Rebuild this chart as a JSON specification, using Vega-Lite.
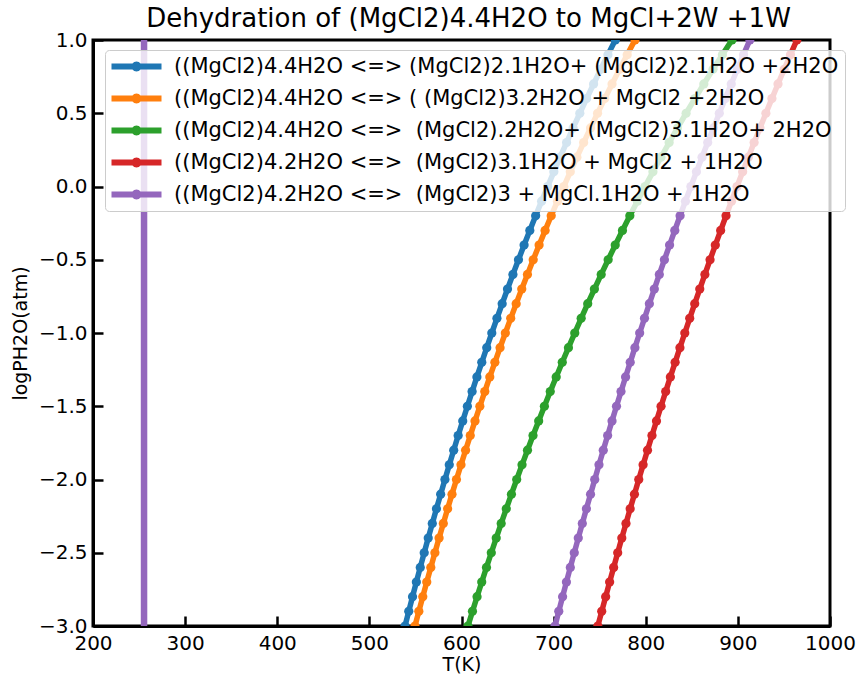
{
  "$schema": "https://vega.github.io/schema/vega-lite/v6.json",
  "autosize": {"type": "none"},
  "padding": {"left": 93, "top": 40, "right": 29, "bottom": 51},
  "width": 737,
  "height": 586,
  "background": "white",
  "title": {"text": "Dehydration of (MgCl2)4.4H2O to MgCl+2W +1W", "font": "DejaVu Sans", "fontSize": 26, "fontWeight": "normal", "color": "black", "anchor": "middle", "offset": -2, "dx": 7},
  "config": {
    "view": {"stroke": "black", "strokeWidth": 3},
    "axis": {"grid": false, "labelFlush": false, "domainColor": "black", "domainWidth": 3, "tickColor": "black", "tickWidth": 2.5, "tickSize": -10, "labelFont": "DejaVu Sans", "labelFontSize": 20, "labelColor": "black", "titleFont": "DejaVu Sans", "titleFontSize": 19, "titleFontWeight": "normal", "titleColor": "black"}
  },
  "datasets": {
    "series": [
      {"s": "A", "label": "((MgCl2)4.4H2O <=> (MgCl2)2.1H2O+ (MgCl2)2.1H2O +2H2O"},
      {"s": "B", "label": "((MgCl2)4.4H2O <=> ( (MgCl2)3.2H2O + MgCl2 +2H2O"},
      {"s": "C", "label": "((MgCl2)4.4H2O <=>\u00a0 (MgCl2).2H2O+ (MgCl2)3.1H2O+ 2H2O"},
      {"s": "D", "label": "((MgCl2)4.2H2O <=>\u00a0 (MgCl2)3.1H2O + MgCl2 + 1H2O"},
      {"s": "E", "label": "((MgCl2)4.2H2O <=>\u00a0 (MgCl2)3 + MgCl.1H2O + 1H2O"}
    ],
    "vline": [
      {"T": 255.4, "logP": -3.5},
      {"T": 255.4, "logP": 1.5}
    ],
    "curves": [
      {"s":"A","T":534.72,"logP":-3.1},{"s":"A","T":538.70,"logP":-3.0},{"s":"A","T":542.74,"logP":-2.9},{"s":"A","T":546.84,"logP":-2.8},{"s":"A","T":551.00,"logP":-2.7},{"s":"A","T":555.23,"logP":-2.6},{"s":"A","T":559.52,"logP":-2.5},{"s":"A","T":563.88,"logP":-2.4},{"s":"A","T":568.30,"logP":-2.3},{"s":"A","T":572.80,"logP":-2.2},{"s":"A","T":577.37,"logP":-2.1},{"s":"A","T":582.01,"logP":-2.0},{"s":"A","T":586.73,"logP":-1.9},{"s":"A","T":591.52,"logP":-1.8},{"s":"A","T":596.39,"logP":-1.7},{"s":"A","T":601.35,"logP":-1.6},{"s":"A","T":606.38,"logP":-1.5},{"s":"A","T":611.51,"logP":-1.4},{"s":"A","T":616.71,"logP":-1.3},{"s":"A","T":622.01,"logP":-1.2},{"s":"A","T":627.40,"logP":-1.1},{"s":"A","T":632.89,"logP":-1.0},{"s":"A","T":638.47,"logP":-0.9},{"s":"A","T":644.15,"logP":-0.8},{"s":"A","T":649.94,"logP":-0.7},{"s":"A","T":655.82,"logP":-0.6},{"s":"A","T":661.82,"logP":-0.5},{"s":"A","T":667.93,"logP":-0.4},{"s":"A","T":674.14,"logP":-0.3},{"s":"A","T":680.48,"logP":-0.2},{"s":"A","T":686.94,"logP":-0.1},{"s":"A","T":693.52,"logP":0.0},{"s":"A","T":700.22,"logP":0.1},{"s":"A","T":707.07,"logP":0.2},{"s":"A","T":714.04,"logP":0.3},{"s":"A","T":721.15,"logP":0.4},{"s":"A","T":728.41,"logP":0.5},{"s":"A","T":735.81,"logP":0.6},{"s":"A","T":743.37,"logP":0.7},{"s":"A","T":751.08,"logP":0.8},{"s":"A","T":758.96,"logP":0.9},{"s":"A","T":766.99,"logP":1.0},{"s":"A","T":775.21,"logP":1.1},
      {"s":"B","T":545.37,"logP":-3.1},{"s":"B","T":549.50,"logP":-3.0},{"s":"B","T":553.69,"logP":-2.9},{"s":"B","T":557.95,"logP":-2.8},{"s":"B","T":562.28,"logP":-2.7},{"s":"B","T":566.67,"logP":-2.6},{"s":"B","T":571.13,"logP":-2.5},{"s":"B","T":575.66,"logP":-2.4},{"s":"B","T":580.26,"logP":-2.3},{"s":"B","T":584.94,"logP":-2.2},{"s":"B","T":589.69,"logP":-2.1},{"s":"B","T":594.52,"logP":-2.0},{"s":"B","T":599.44,"logP":-1.9},{"s":"B","T":604.43,"logP":-1.8},{"s":"B","T":609.51,"logP":-1.7},{"s":"B","T":614.67,"logP":-1.6},{"s":"B","T":619.92,"logP":-1.5},{"s":"B","T":625.27,"logP":-1.4},{"s":"B","T":630.70,"logP":-1.3},{"s":"B","T":636.23,"logP":-1.2},{"s":"B","T":641.86,"logP":-1.1},{"s":"B","T":647.59,"logP":-1.0},{"s":"B","T":653.42,"logP":-0.9},{"s":"B","T":659.36,"logP":-0.8},{"s":"B","T":665.41,"logP":-0.7},{"s":"B","T":671.57,"logP":-0.6},{"s":"B","T":677.84,"logP":-0.5},{"s":"B","T":684.23,"logP":-0.4},{"s":"B","T":690.75,"logP":-0.3},{"s":"B","T":697.38,"logP":-0.2},{"s":"B","T":704.15,"logP":-0.1},{"s":"B","T":711.05,"logP":0.0},{"s":"B","T":718.09,"logP":0.1},{"s":"B","T":725.27,"logP":0.2},{"s":"B","T":732.59,"logP":0.3},{"s":"B","T":740.06,"logP":0.4},{"s":"B","T":747.69,"logP":0.5},{"s":"B","T":755.48,"logP":0.6},{"s":"B","T":763.42,"logP":0.7},{"s":"B","T":771.54,"logP":0.8},{"s":"B","T":779.84,"logP":0.9},{"s":"B","T":788.31,"logP":1.0},{"s":"B","T":796.97,"logP":1.1},
      {"s":"C","T":602.17,"logP":-3.1},{"s":"C","T":607.00,"logP":-3.0},{"s":"C","T":611.91,"logP":-2.9},{"s":"C","T":616.89,"logP":-2.8},{"s":"C","T":621.96,"logP":-2.7},{"s":"C","T":627.11,"logP":-2.6},{"s":"C","T":632.35,"logP":-2.5},{"s":"C","T":637.68,"logP":-2.4},{"s":"C","T":643.09,"logP":-2.3},{"s":"C","T":648.60,"logP":-2.2},{"s":"C","T":654.21,"logP":-2.1},{"s":"C","T":659.91,"logP":-2.0},{"s":"C","T":665.71,"logP":-1.9},{"s":"C","T":671.62,"logP":-1.8},{"s":"C","T":677.63,"logP":-1.7},{"s":"C","T":683.75,"logP":-1.6},{"s":"C","T":689.98,"logP":-1.5},{"s":"C","T":696.33,"logP":-1.4},{"s":"C","T":702.79,"logP":-1.3},{"s":"C","T":709.38,"logP":-1.2},{"s":"C","T":716.09,"logP":-1.1},{"s":"C","T":722.93,"logP":-1.0},{"s":"C","T":729.90,"logP":-0.9},{"s":"C","T":737.01,"logP":-0.8},{"s":"C","T":744.25,"logP":-0.7},{"s":"C","T":751.64,"logP":-0.6},{"s":"C","T":759.18,"logP":-0.5},{"s":"C","T":766.87,"logP":-0.4},{"s":"C","T":774.72,"logP":-0.3},{"s":"C","T":782.73,"logP":-0.2},{"s":"C","T":790.91,"logP":-0.1},{"s":"C","T":799.26,"logP":0.0},{"s":"C","T":807.79,"logP":0.1},{"s":"C","T":816.50,"logP":0.2},{"s":"C","T":825.40,"logP":0.3},{"s":"C","T":834.50,"logP":0.4},{"s":"C","T":843.80,"logP":0.5},{"s":"C","T":853.32,"logP":0.6},{"s":"C","T":863.04,"logP":0.7},{"s":"C","T":873.00,"logP":0.8},{"s":"C","T":883.18,"logP":0.9},{"s":"C","T":893.60,"logP":1.0},{"s":"C","T":904.27,"logP":1.1},
      {"s":"D","T":743.83,"logP":-3.1},{"s":"D","T":748.00,"logP":-3.0},{"s":"D","T":752.21,"logP":-2.9},{"s":"D","T":756.48,"logP":-2.8},{"s":"D","T":760.79,"logP":-2.7},{"s":"D","T":765.15,"logP":-2.6},{"s":"D","T":769.55,"logP":-2.5},{"s":"D","T":774.01,"logP":-2.4},{"s":"D","T":778.53,"logP":-2.3},{"s":"D","T":783.09,"logP":-2.2},{"s":"D","T":787.71,"logP":-2.1},{"s":"D","T":792.39,"logP":-2.0},{"s":"D","T":797.12,"logP":-1.9},{"s":"D","T":801.91,"logP":-1.8},{"s":"D","T":806.75,"logP":-1.7},{"s":"D","T":811.66,"logP":-1.6},{"s":"D","T":816.61,"logP":-1.5},{"s":"D","T":821.64,"logP":-1.4},{"s":"D","T":826.73,"logP":-1.3},{"s":"D","T":831.88,"logP":-1.2},{"s":"D","T":837.10,"logP":-1.1},{"s":"D","T":842.38,"logP":-1.0},{"s":"D","T":847.72,"logP":-0.9},{"s":"D","T":853.14,"logP":-0.8},{"s":"D","T":858.63,"logP":-0.7},{"s":"D","T":864.18,"logP":-0.6},{"s":"D","T":869.81,"logP":-0.5},{"s":"D","T":875.51,"logP":-0.4},{"s":"D","T":881.29,"logP":-0.3},{"s":"D","T":887.15,"logP":-0.2},{"s":"D","T":893.08,"logP":-0.1},{"s":"D","T":899.09,"logP":0.0},{"s":"D","T":905.19,"logP":0.1},{"s":"D","T":911.37,"logP":0.2},{"s":"D","T":917.63,"logP":0.3},{"s":"D","T":923.98,"logP":0.4},{"s":"D","T":930.41,"logP":0.5},{"s":"D","T":936.94,"logP":0.6},{"s":"D","T":943.56,"logP":0.7},{"s":"D","T":950.28,"logP":0.8},{"s":"D","T":957.09,"logP":0.9},{"s":"D","T":964.00,"logP":1.0},{"s":"D","T":971.02,"logP":1.1},
      {"s":"E","T":697.46,"logP":-3.1},{"s":"E","T":701.50,"logP":-3.0},{"s":"E","T":705.58,"logP":-2.9},{"s":"E","T":709.72,"logP":-2.8},{"s":"E","T":713.90,"logP":-2.7},{"s":"E","T":718.13,"logP":-2.6},{"s":"E","T":722.42,"logP":-2.5},{"s":"E","T":726.75,"logP":-2.4},{"s":"E","T":731.13,"logP":-2.3},{"s":"E","T":735.58,"logP":-2.2},{"s":"E","T":740.07,"logP":-2.1},{"s":"E","T":744.62,"logP":-2.0},{"s":"E","T":749.23,"logP":-1.9},{"s":"E","T":753.89,"logP":-1.8},{"s":"E","T":758.61,"logP":-1.7},{"s":"E","T":763.39,"logP":-1.6},{"s":"E","T":768.23,"logP":-1.5},{"s":"E","T":773.14,"logP":-1.4},{"s":"E","T":778.10,"logP":-1.3},{"s":"E","T":783.13,"logP":-1.2},{"s":"E","T":788.23,"logP":-1.1},{"s":"E","T":793.39,"logP":-1.0},{"s":"E","T":798.63,"logP":-0.9},{"s":"E","T":803.92,"logP":-0.8},{"s":"E","T":809.30,"logP":-0.7},{"s":"E","T":814.74,"logP":-0.6},{"s":"E","T":820.26,"logP":-0.5},{"s":"E","T":825.85,"logP":-0.4},{"s":"E","T":831.52,"logP":-0.3},{"s":"E","T":837.27,"logP":-0.2},{"s":"E","T":843.09,"logP":-0.1},{"s":"E","T":849.00,"logP":0.0},{"s":"E","T":855.00,"logP":0.1},{"s":"E","T":861.07,"logP":0.2},{"s":"E","T":867.24,"logP":0.3},{"s":"E","T":873.49,"logP":0.4},{"s":"E","T":879.83,"logP":0.5},{"s":"E","T":886.27,"logP":0.6},{"s":"E","T":892.81,"logP":0.7},{"s":"E","T":899.43,"logP":0.8},{"s":"E","T":906.16,"logP":0.9},{"s":"E","T":913.00,"logP":1.0},{"s":"E","T":919.93,"logP":1.1}
    ]
  },
  "encoding": {
    "x": {"field": "T", "type": "quantitative", "scale": {"domain": [200, 1000], "nice": false, "zero": false}, "axis": {"title": "T(K)", "values": [200, 300, 400, 500, 600, 700, 800, 900, 1000], "format": "d", "labelPadding": 17, "titlePadding": 2}},
    "y": {"field": "logP", "type": "quantitative", "scale": {"domain": [-3, 1], "nice": false, "zero": false}, "axis": {"title": "logPH2O(atm)", "values": [-3, -2.5, -2, -1.5, -1, -0.5, 0, 0.5, 1], "format": ".1f", "labelPadding": 16, "titlePadding": 8}}
  },
  "layer": [
    {
      "data": {"name": "vline"},
      "mark": {"type": "line", "color": "#9467bd", "strokeWidth": 6.5, "clip": true}
    },
    {
      "data": {"name": "curves"},
      "transform": [{"lookup": "s", "from": {"data": {"name": "series"}, "key": "s", "fields": ["label"]}}],
      "mark": {"type": "line", "strokeWidth": 5.5, "clip": true},
      "encoding": {
        "color": {"field": "label", "type": "nominal", "sort": null,
          "scale": {"domain": ["((MgCl2)4.4H2O <=> (MgCl2)2.1H2O+ (MgCl2)2.1H2O +2H2O", "((MgCl2)4.4H2O <=> ( (MgCl2)3.2H2O + MgCl2 +2H2O", "((MgCl2)4.4H2O <=>\u00a0 (MgCl2).2H2O+ (MgCl2)3.1H2O+ 2H2O", "((MgCl2)4.2H2O <=>\u00a0 (MgCl2)3.1H2O + MgCl2 + 1H2O", "((MgCl2)4.2H2O <=>\u00a0 (MgCl2)3 + MgCl.1H2O + 1H2O"], "range": ["#1f77b4", "#ff7f0e", "#2ca02c", "#d62728", "#9467bd"]},
          "legend": {"title": null, "orient": "none", "legendX": 12, "legendY": 10, "direction": "vertical", "fillColor": "rgba(255,255,255,0.8)", "strokeColor": "#cccccc", "cornerRadius": 4, "padding": 6, "rowPadding": 10, "symbolType": "M-1,-0.3H1.1A0.5,0.5 0 0,1 1.9,-0.3H4V0.3H1.9A0.5,0.5 0 0,1 1.1,0.3H-1Z", "symbolSize": 400, "symbolStrokeWidth": 0, "labelOffset": 42, "labelFont": "DejaVu Sans", "labelFontSize": 21, "labelColor": "black", "labelLimit": 0,
            "encode": {"symbols": {"update": {"fill": {"scale": "color", "field": "value"}, "stroke": {"value": "transparent"}, "opacity": {"value": 1}}}}}
        },
        "detail": {"field": "s", "type": "nominal"}
      }
    },
    {
      "data": {"name": "curves"},
      "transform": [{"lookup": "s", "from": {"data": {"name": "series"}, "key": "s", "fields": ["label"]}}],
      "mark": {"type": "point", "filled": true, "size": 85, "opacity": 1, "clip": true},
      "encoding": {
        "color": {"field": "label", "type": "nominal", "sort": null}
      }
    }
  ]
}
